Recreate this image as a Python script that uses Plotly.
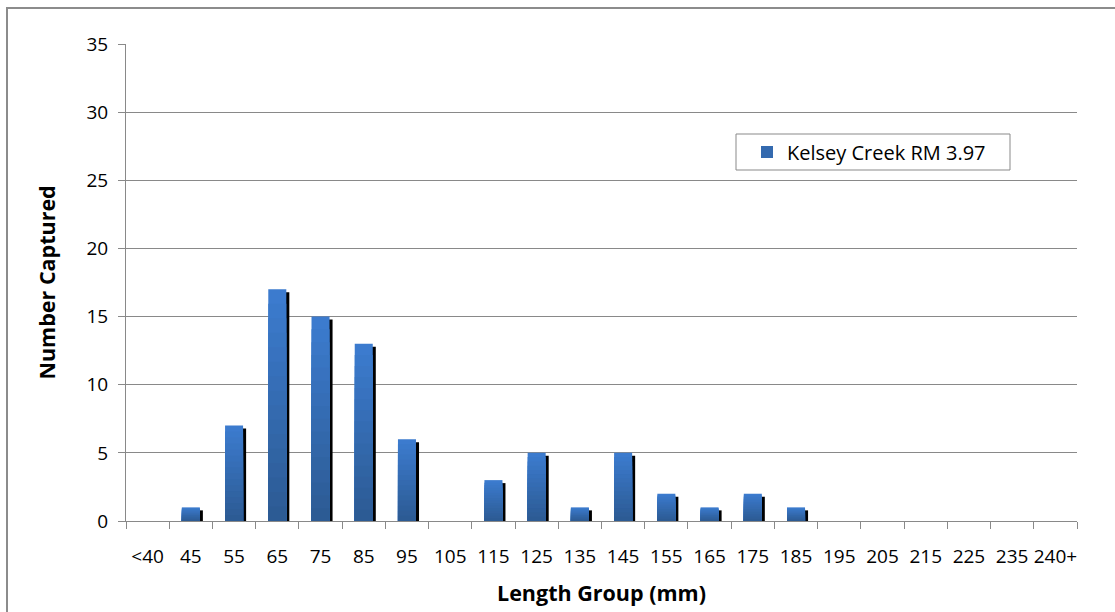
import plotly.graph_objects as go

# Length groups (mm) and number of fish captured in each
length_groups = ["<40", "45", "55", "65", "75", "85", "95", "105", "115", "125",
                 "135", "145", "155", "165", "175", "185", "195", "205", "215",
                 "225", "235", "240+"]
captured = [0, 1, 7, 17, 15, 13, 6, 0, 3, 5, 1, 5, 2, 1, 2, 1, 0, 0, 0, 0, 0, 0]
series_name = "Kelsey Creek RM 3.97"
y_ticks = [0, 5, 10, 15, 20, 25, 30, 35]

FONT = "Open Sans"
GRAY = "#898989"
BAR_W = 0.417
BAR_OFF = -BAR_W / 2
SHADOW_DX = 0.07      # shadow shift in category units
SHADOW_DY = 0.22      # shadow drop in data units
N_SEG = 16
DARK = (44, 90, 146)
LIGHT = (60, 124, 208)


def mix(t):
    r, g, b = (round(DARK[i] + (LIGHT[i] - DARK[i]) * t) for i in range(3))
    return f"rgb({r},{g},{b})"


fig = go.Figure()

# drop shadow behind each bar
fig.add_trace(go.Bar(
    x=length_groups,
    y=[max(v - SHADOW_DY, 0) if v > 0 else 0 for v in captured],
    width=BAR_W, offset=BAR_OFF + SHADOW_DX,
    marker=dict(color="black", line=dict(width=0)),
    showlegend=False, hoverinfo="skip",
))

# bars with a vertical gradient: each layer starts at zero and is shorter
# and darker than the one beneath it, so no seams show between bands
for k in range(N_SEG):
    frac = (N_SEG - k) / N_SEG
    fig.add_trace(go.Bar(
        x=length_groups,
        y=[v * frac for v in captured],
        width=BAR_W, offset=BAR_OFF,
        marker=dict(color=mix(frac - 0.5 / N_SEG), line=dict(width=0)),
        name=series_name,
        showlegend=(k == N_SEG // 2),
        hoverinfo="skip",
    ))

LEG_X0, LEG_X1, LEG_Y0, LEG_Y1 = 736, 1010, 134, 170


def px_x(p):
    return (p - 126) / 951


def px_y(p):
    return (521 - p) / 477


fig.update_layout(
    width=1115, height=612,
    margin=dict(l=126, r=38, t=44, b=91),
    paper_bgcolor="white", plot_bgcolor="white",
    barmode="overlay",
    font=dict(family=FONT, size=19, color="black"),
    showlegend=True,
    legend=dict(
        x=px_x(747), y=px_y((LEG_Y0 + LEG_Y1) / 2),
        xanchor="left", yanchor="middle",
        borderwidth=0, bgcolor="rgba(0,0,0,0)",
        font=dict(family=FONT, size=20, color="black"),
    ),
    xaxis=dict(
        type="category", range=[-0.5, len(length_groups) - 0.5],
        showline=True, linecolor=GRAY, linewidth=1,
        ticks="outside", tickson="boundaries", ticklen=7, tickcolor=GRAY,
        showgrid=False, tickfont=dict(size=19), tickangle=0,
        ticklabelstandoff=18,
    ),
    yaxis=dict(
        range=[0, 35], tickvals=y_ticks,
        showline=True, linecolor=GRAY, linewidth=1,
        ticks="outside", ticklen=7, tickcolor=GRAY,
        showgrid=True, gridcolor=GRAY, gridwidth=1,
        zeroline=False, tickfont=dict(size=19), ticklabelstandoff=6,
    ),
    annotations=[
        dict(text="<b>Length Group (mm)</b>", xref="paper", yref="paper",
             x=0.5, y=px_y(592), xanchor="center", yanchor="middle",
             showarrow=False, font=dict(family=FONT, size=21.5)),
        dict(text="<b>Number Captured</b>", xref="paper", yref="paper",
             x=px_x(46), y=0.5, xanchor="center", yanchor="middle",
             textangle=-90, showarrow=False, font=dict(family=FONT, size=21.5)),
    ],
    shapes=[
        dict(type="rect", xref="paper", yref="paper",
             x0=px_x(7), x1=1.2, y0=-0.4, y1=px_y(8),
             line=dict(color="#8c8c8c", width=2), layer="below"),
        dict(type="rect", xref="paper", yref="paper",
             x0=px_x(LEG_X0), x1=px_x(LEG_X1), y0=px_y(LEG_Y1), y1=px_y(LEG_Y0),
             line=dict(color=GRAY, width=1), fillcolor="white", layer="below"),
    ],
)

fig.write_html("out.html")
